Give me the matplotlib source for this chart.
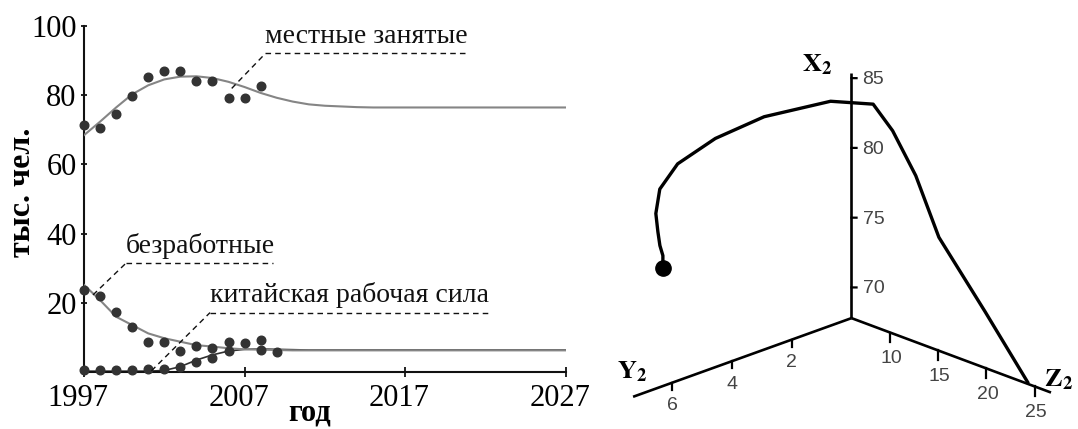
import numpy as np
import matplotlib
matplotlib.use('Agg')
import matplotlib.pyplot as plt
from matplotlib.transforms import ScaledTranslation
from mpl_toolkits.mplot3d import proj3d

# ---------------- data ----------------
years_obs = [1997, 1998, 1999, 2000, 2001, 2002, 2003, 2004, 2005, 2006, 2007, 2008]
local_obs = [71.2, 70.4, 74.4, 79.6, 85.3, 87.0, 87.0, 84.1, 84.1, 79.2, 79.2, 82.6]
unemp_obs = [23.7, 22.0, 17.5, 13.1, 8.8, 8.8, 6.2, 7.6, 7.1, 8.8, 8.5, 9.3]
years_cn_obs = [1997, 1998, 1999, 2000, 2001, 2002, 2003, 2004, 2005, 2006, 2008, 2009]
cn_obs = [0.5, 0.5, 0.5, 0.5, 0.9, 0.9, 1.6, 3.0, 4.0, 6.1, 6.4, 5.7]

years_model = list(range(1997, 2028))
local_model = [68.4, 72.3, 76.4, 80.2, 82.8, 84.5, 85.3, 85.4, 84.9, 83.8,
               82.3, 80.6, 79.2, 78.1, 77.3, 76.9, 76.7, 76.5, 76.4, 76.4,
               76.4, 76.4, 76.4, 76.4, 76.4, 76.4, 76.4, 76.4, 76.4, 76.4, 76.4]
unemp_model = [25.2, 20.8, 16.0, 13.6, 11.2, 9.8, 8.8, 7.8, 7.4, 6.9,
               6.6, 6.5, 6.4, 6.3, 6.3, 6.3, 6.3, 6.3, 6.3, 6.3,
               6.3, 6.3, 6.3, 6.3, 6.3, 6.3, 6.3, 6.3, 6.3, 6.3, 6.3]
cn_model = [0.3, 0.3, 0.3, 0.3, 0.3, 0.5, 1.6, 3.5, 5.0, 6.1,
            6.6, 6.7, 6.6, 6.5, 6.4, 6.4, 6.4, 6.4, 6.4, 6.4,
            6.4, 6.4, 6.4, 6.4, 6.4, 6.4, 6.4, 6.4, 6.4, 6.4, 6.4]

x_ticks = [1997, 2007, 2017, 2027]
y_ticks = [20, 40, 60, 80, 100]

ann_texts = ['местные занятые', 'безработные', 'китайская рабочая сила']
ann_start = [(2008.3, 92.0), (1999.6, 31.4), (2004.85, 17.2)]   # left end of underline
ann_end_x = [2020.75, 2008.8, 2022.25]                          # right end of underline
ann_target = [(2006.2, 81.9), (1997.56, 22.3), (2001.2, 0.4)]

x2_ticks = [70, 75, 80, 85]
y2_ticks = [2, 4, 6]
z2_ticks = [10, 15, 20, 25]

# ---------------- figure ----------------
W, H = 1078, 429
fig = plt.figure(figsize=(W / 100, H / 100), dpi=100)
fig.patch.set_facecolor('white')
serif = 'Liberation Serif'
plt.rcParams['mathtext.fontset'] = 'stix'

ax = fig.add_axes([84 / W, (H - 372.2) / H, (565.7 - 84) / W, (372.2 - 25.7) / H])
ax.set_facecolor('none')
ax.set_xlim(1997, 2027)
ax.set_ylim(0, 100)
for s in ['top', 'right']:
    ax.spines[s].set_visible(False)
for s in ['left', 'bottom']:
    ax.spines[s].set_linewidth(1.5)
    ax.spines[s].set_color('#111111')

gray = '#858585'
ax.plot(years_model, cn_model, color='#303030', lw=1.2, zorder=2)
ax.plot(years_model, unemp_model, color=gray, lw=1.5, zorder=3)
ax.plot(years_model, local_model, color=gray, lw=1.5, zorder=3)
dot = dict(ls='none', marker='o', ms=6.2, color='#333333', zorder=4, clip_on=False)
ax.plot(years_obs, local_obs, **dot)
ax.plot(years_obs, unemp_obs, **dot)
ax.plot(years_cn_obs, cn_obs, **dot)

ax.set_xticks(x_ticks)
ax.set_yticks(y_ticks)
ax.tick_params(axis='x', direction='inout', length=7, width=1.3, pad=5,
               labelsize=22, color='#111111')
ax.tick_params(axis='y', direction='inout', length=4.5, width=1.3, pad=3,
               labelsize=22, color='#111111')
for lab in ax.get_xticklabels() + ax.get_yticklabels():
    lab.set_fontfamily(serif)
for lab in ax.get_xticklabels():
    lab.set_transform(lab.get_transform() + ScaledTranslation(-6 / 100, 0, fig.dpi_scale_trans))

fig.text(23 / W, 1 - 192 / H, 'тыс. чел.', rotation=90, ha='center', va='center',
         fontsize=23, fontweight='bold', family=serif)
fig.text(310 / W, 1 - 421 / H, 'год', ha='center', va='baseline',
         fontsize=22, fontweight='bold', family=serif)

dash = (0, (4, 3))
for txt, (sx, sy), ex, (tx, ty) in zip(ann_texts, ann_start, ann_end_x, ann_target):
    ax.plot([sx, ex], [sy, sy], color='#111111', lw=1.0, ls=dash, zorder=5)
    ax.plot([tx, sx], [ty, sy], color='#111111', lw=1.0, ls=dash, zorder=5)
    ax.text(sx, sy + 1.3, txt, ha='left', va='bottom', fontsize=20, family=serif,
            color='#111111')

# ---------------- 3D phase trajectory ----------------
Y0, Z0, X0 = 0.0, 6.0, 67.8
Ymax, Zmax, Xmax = 7.3, 26.7, 85.4

ax3 = fig.add_axes([0.55, 0.0, 429 / W, 1.0], projection='3d', proj_type='ortho')
ax3.patch.set_alpha(0)
ax3.set_axis_off()
ax3.view_init(elev=21.5, azim=45.5)
ax3.set_xlim(Y0, Ymax)
ax3.set_ylim(Z0, Zmax)
ax3.set_zlim(X0, Xmax)
ax3.set_box_aspect(((Ymax - Y0) * 42.1, (Zmax - Z0) * 13.8, (Xmax - X0) * 15.05))

lk = dict(color='black', lw=1.9, solid_capstyle='butt')
ax3.plot([Y0, Y0], [Z0, Z0], [X0, Xmax], **lk)
ax3.plot([Y0, Ymax], [Z0, Z0], [X0, X0], **lk)
ax3.plot([Y0, Y0], [Z0, Zmax], [X0, X0], **lk)
tk = dict(color='black', lw=1.6)
for t in x2_ticks:
    ax3.plot([Y0, Y0 - 0.085], [Z0, Z0 + 0.26], [t, t], **tk)
for t in y2_ticks:
    ax3.plot([t, t], [Z0, Z0], [X0, X0 - 0.5], **tk)
for t in z2_ticks:
    ax3.plot([Y0, Y0], [t, t], [X0, X0 - 0.7], **tk)

ax3.plot(cn_model, unemp_model, local_model, color='black', lw=2.4)
ax3.plot([cn_model[-1]], [unemp_model[-1]], [local_model[-1]], 'o', color='black', ms=11)

# --- align the 3D box so its origin / axis ends sit where the reference has them
targets = np.array([[851.6, 318.5], [635.0, 395.0], [1051.7, 393.3], [848.3, 71.7]])
pts3 = [(Y0, Z0, X0), (Ymax, Z0, X0), (Y0, Zmax, X0), (Y0, Z0, Xmax)]


def to_px(pts):
    fig.canvas.draw()
    M = ax3.get_proj()
    out = []
    for p in pts:
        x2, y2, _ = proj3d.proj_transform(p[0], p[1], p[2], M)
        d = ax3.transData.transform((x2, y2))
        out.append([d[0], H - d[1]])
    return np.array(out)


for _ in range(3):
    P = to_px(pts3)
    pos = ax3.get_position()
    S = pos.width * W
    C = np.array([(pos.x0 + pos.width / 2) * W, H - (pos.y0 + pos.height / 2) * H])
    s = (np.linalg.norm(targets[1] - targets[2]) + np.linalg.norm(targets[0] - targets[3])) / \
        (np.linalg.norm(P[1] - P[2]) + np.linalg.norm(P[0] - P[3]))
    Ps = C + s * (P - C)
    shift = (targets - Ps).mean(axis=0) * 0.5 + (targets[0] - Ps[0]) * 0.5
    C2 = C + shift
    S2 = S * s
    ax3.set_position([(C2[0] - S2 / 2) / W, (H - C2[1] - S2 / 2) / H, S2 / W, S2 / H])

# tick labels of the 3D axes, placed next to the projected tick positions
tl = dict(family='Liberation Sans', fontsize=14, color='#444444', ha='center', va='center')
xp = to_px([(Y0, Z0, t) for t in x2_ticks])
for t, (px, py) in zip(x2_ticks, xp):
    fig.text((px + 22) / W, 1 - (py + 1.5) / H, str(t), **tl)
yp = to_px([(t, Z0, X0) for t in y2_ticks])
for t, (px, py) in zip(y2_ticks, yp):
    fig.text(px / W, 1 - (py + 23) / H, str(t), **tl)
zp = to_px([(Y0, t, X0) for t in z2_ticks])
for t, (px, py) in zip(z2_ticks, zp):
    fig.text((px + 1) / W, 1 - (py + 26) / H, str(t), **tl)

fs = 19
fig.text(801.7 / W, 1 - 71.7 / H, r'$\mathbf{X}_{\mathbf{2}}$', fontsize=fs, ha='left', va='baseline')
fig.text(617.0 / W, 1 - 378.0 / H, r'$\mathbf{Y}_{\mathbf{2}}$', fontsize=fs, ha='left', va='baseline')
fig.text(1044.0 / W, 1 - 386.7 / H, r'$\mathbf{Z}_{\mathbf{2}}$', fontsize=fs, ha='left', va='baseline')

fig.savefig('out.png', dpi=100)
